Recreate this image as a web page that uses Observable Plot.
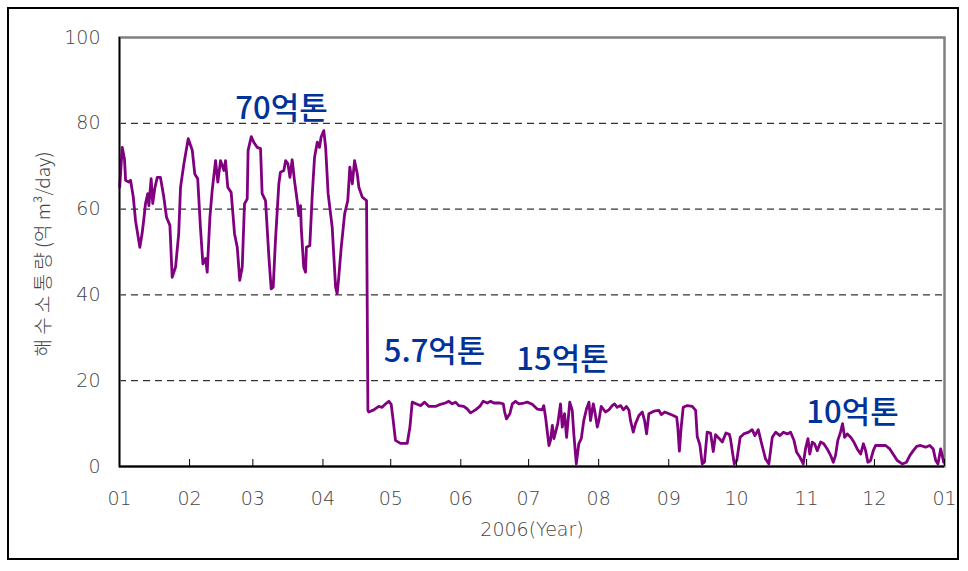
<!DOCTYPE html>
<html>
<head>
<meta charset="utf-8">
<script src="https://cdn.jsdelivr.net/npm/d3@7"></script>
<script src="https://cdn.jsdelivr.net/npm/@observablehq/plot@0.6"></script>
<style>
  html, body { margin: 0; padding: 0; background: #fff; }
  #wrap { position: relative; width: 968px; height: 571px; }
  #border { position: absolute; left: 7px; top: 7px; width: 952px; height: 553px; border: 2px solid #000; box-sizing: border-box; pointer-events: none; }
</style>
</head>
<body>
<div id="wrap"><div id="border"></div></div>
<script>
// Day of year 2006 (0 = Jan 1) and daily seawater exchange (억 m³/day)
const days = [
  0.1,1.2,2.2,2.7,4.1,4.9,6.1,7.1,9.0,10.0,10.8,11.5,12.5,13.0,14.0,14.7,15.6,16.7,18.1,19.6,
  20.8,22.3,23.3,24.8,26.2,27.0,28.5,30.4,32.2,33.3,34.6,35.8,36.9,38.1,38.8,40.0,41.0,42.5,43.5,44.7,
  46.2,46.9,47.9,49.4,50.9,52.1,53.2,54.3,55.3,56.5,56.9,58.3,59.4,60.9,62.4,63.1,64.6,66.1,67.1,68.0,
  69.0,70.5,71.2,72.7,73.5,74.5,75.4,76.4,77.4,78.6,79.3,80.1,80.4,81.5,82.3,82.7,84.2,85.3,86.3,87.5,
  88.5,89.2,90.4,91.2,92.3,94.1,95.6,96.3,97.0,98.1,99.6,101.0,101.9,103.0,104.0,105.2,105.9,107.4,109.3,109.6,
  109.9,110.3,112.5,114.7,116.2,117.7,119.2,120.2,121.1,122.1,124.3,127.3,128.5,129.5,131.7,133.2,135.0,136.9,139.8,142.0,
  144.2,145.7,147.2,148.7,150.1,152.3,153.9,155.3,157.5,159.4,160.9,162.7,164.2,165.6,168.3,169.8,170.4,171.2,172.7,173.8,
  175.2,176.7,178.9,180.4,182.6,184.8,187.0,187.7,188.5,189.2,190.0,190.7,191.5,192.2,193.9,195.1,195.9,196.9,197.8,199.2,
  200.3,201.0,202.1,203.2,204.3,205.4,206.6,207.7,208.4,209.6,210.2,211.4,212.1,213.1,215.0,216.5,218.0,219.0,220.2,221.7,
  222.9,224.3,225.4,226.1,227.3,228.3,229.8,231.3,232.3,233.2,234.2,236.4,238.6,239.7,241.2,243.1,245.0,246.5,247.0,247.7,
  248.5,249.4,251.2,253.4,254.9,255.6,256.8,257.8,258.8,260.0,261.5,262.7,263.7,265.2,266.7,268.3,269.8,270.3,271.2,272.0,
  273.1,274.6,276.2,278.4,279.9,281.1,282.6,284.1,285.8,287.3,288.8,290.3,292.2,293.7,295.4,296.9,298.4,299.6,301.0,302.5,
  303.5,304.6,305.4,306.5,307.5,308.7,310.2,311.6,313.1,314.6,315.8,316.8,317.8,319.0,319.9,320.8,322.0,323.5,324.9,326.4,
  327.9,329.1,330.1,331.1,332.3,333.5,334.5,336.7,338.9,340.8,342.6,344.1,346.3,348.2,349.7,351.2,352.7,354.4,356.6,358.5,
  360.0,361.1,362.1,363.3,364.0,364.6
];
const values = [
  65.1,74.4,71.7,66.7,66.3,66.7,62.8,57.3,51.1,54.3,57.8,61.3,63.6,60.8,67.1,61.3,64.8,67.4,67.4,62.8,
  58.1,56.2,44.1,46.5,54.3,65.1,70.6,76.4,73.7,68.2,67.1,55.8,47.2,48.5,45.3,58.1,64.3,71.3,66.3,71.3,
  69.0,71.3,65.1,63.9,54.2,51.1,43.4,46.5,61.2,62.4,73.7,76.9,75.6,74.4,74.1,63.6,62.0,48.8,41.4,41.8,
  52.7,65.9,68.6,69.0,71.3,70.6,67.4,71.5,66.7,62.0,58.5,60.8,55.8,46.5,45.3,51.1,51.5,63.6,72.1,75.6,
  74.4,76.8,78.3,74.4,63.6,55.8,41.8,40.3,44.1,51.1,58.9,62.0,69.8,65.9,71.3,68.2,65.1,62.8,62.0,37.1,
  13.1,12.7,13.2,14.0,13.8,14.6,15.2,14.5,10.7,6.1,5.4,5.4,9.2,15.0,14.5,14.2,15.0,14.0,14.0,14.5,
  14.8,15.2,14.6,15.0,14.2,14.0,13.4,12.5,13.2,14.0,15.2,14.8,15.2,14.8,14.8,14.6,12.7,11.1,12.3,14.6,
  15.2,14.6,14.8,15.0,14.5,13.4,13.2,14.2,11.5,8.4,4.9,6.1,9.6,6.5,10.0,14.6,9.2,12.3,6.8,15.0,
  13.1,7.6,0.6,5.3,6.5,10.7,13.4,15.0,10.7,14.6,13.1,9.2,10.7,14.0,12.7,13.2,14.2,14.6,13.8,14.2,
  13.2,14.0,13.1,10.7,8.0,10.0,11.9,12.7,10.7,7.6,12.3,12.9,13.1,12.1,12.7,12.3,11.9,11.5,9.2,3.6,
  9.2,13.8,14.2,14.0,13.1,7.0,5.0,0.6,1.0,8.0,7.8,3.5,7.4,6.6,5.7,7.8,7.5,6.5,3.3,0.6,
  1.4,6.8,7.6,8.0,8.6,7.2,8.6,5.3,1.8,0.6,6.8,8.0,7.2,8.0,7.6,8.0,6.1,3.3,2.2,0.6,
  4.1,6.5,2.9,5.7,5.3,3.7,5.7,5.3,4.1,2.6,1.0,2.6,6.1,8.0,10.0,6.8,7.6,6.8,5.7,4.1,
  2.9,5.3,3.7,1.0,1.4,3.7,4.9,4.9,4.9,4.1,2.6,1.4,0.6,1.0,2.6,3.7,4.7,4.9,4.5,4.9,
  4.1,1.4,0.6,4.1,2.6,1.0
];

// Axis ticks
const yTicks = [0, 20, 40, 60, 80, 100];
const gridValues = [20, 40, 60, 80];
const monthStarts = ["2006-01-01","2006-02-01","2006-03-01","2006-04-01","2006-05-01","2006-06-01","2006-07-01",
  "2006-08-01","2006-09-01","2006-10-01","2006-11-01","2006-12-01","2007-01-01"];
const monthLabels = ["01","02","03","04","05","06","07","08","09","10","11","12","01"];

// Annotations
const annoLabels = ["70억톤", "5.7억톤", "15억톤", "10억톤"];
const annoDays = [71.7, 139.4, 196.0, 324.3];
const annoValues = [83.4, 26.6, 24.7, 12.4];

const t0 = Date.UTC(2006, 0, 1);
const toDate = d => new Date(t0 + d * 86400000);
const series = days.map((d, i) => ({date: toDate(d), value: values[i]}));
const tickDates = monthStarts.map(s => new Date(s + "T00:00:00Z"));
const labelOf = new Map(tickDates.map((d, i) => [+d, monthLabels[i]]));
const annos = annoLabels.map((l, i) => ({label: l, date: toDate(annoDays[i]), value: annoValues[i]}));

const chart = Plot.plot({
  width: 968,
  height: 571,
  marginLeft: 119,
  marginRight: 24,
  marginTop: 37,
  marginBottom: 105,
  style: {fontFamily: "'DejaVu Sans', 'Noto Sans CJK KR', sans-serif", fontSize: "18px", color: "#333", background: "transparent"},
  x: {type: "utc", domain: [tickDates[0], tickDates[12]]},
  y: {domain: [0, 100]},
  marks: [
    Plot.ruleY(gridValues, {stroke: "#000", strokeWidth: 1, strokeDasharray: "7,5"}),
    Plot.frame({stroke: "#808080", strokeWidth: 2.5}),
    Plot.line(series, {x: "date", y: "value", stroke: "#800080", strokeWidth: 2.8, strokeLinejoin: "round"}),
    Plot.ruleX([tickDates[0]], {stroke: "#000", strokeWidth: 1.5}),
    Plot.ruleY([0], {stroke: "#000", strokeWidth: 2}),
    Plot.axisY({ticks: yTicks, tickSize: 0, tickPadding: 19, label: null, fill: "#444", fontSize: 19, fontWeight: 300, letterSpacing: "1.5px"}),
    Plot.axisX({ticks: tickDates, tickSize: -7, text: null, label: null, stroke: "#000"}),
    Plot.axisX({ticks: tickDates, tickSize: 0, tickPadding: 25, tickFormat: d => labelOf.get(+d), label: null, fill: "#444", fontSize: 19, fontWeight: 300, letterSpacing: "1.5px"}),
    Plot.text(["2006(Year)"], {frameAnchor: "bottom", dy: 69, fill: "#444", fontSize: 19, fontWeight: 300, letterSpacing: "1.5px"}),
    Plot.text(["해 수 소 통 량 (억 m³/day)"], {frameAnchor: "left", textAnchor: "middle", dx: -76, dy: 2, rotate: -90, fill: "#444", fontSize: 19, fontWeight: 300, letterSpacing: "1.5px", fontFamily: "'Noto Sans CJK KR', sans-serif"}),
    Plot.text(annos, {x: "date", y: "value", text: "label", fill: "#003399", fontSize: 31, fontWeight: 500, letterSpacing: "-2.5px", fontFamily: "'Noto Sans CJK KR', sans-serif"})
  ]
});
document.getElementById("wrap").appendChild(chart);
chart.style.position = "absolute";
chart.style.left = "0";
chart.style.top = "0";
</script>
</body>
</html>
